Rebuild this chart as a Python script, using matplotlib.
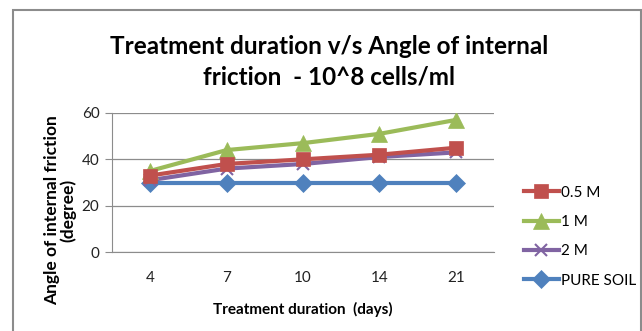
import matplotlib.pyplot as plt
from matplotlib.patches import Rectangle

days = ["4", "7", "10", "14", "21"]
half_m = [33, 38, 40, 42, 45]
one_m = [35, 44, 47, 51, 57]
two_m = [31, 36, 38, 41, 43]
pure_soil = [30, 30, 30, 30, 30]
y_ticks = [0, 20, 40, 60]

plt.rcParams['font.family'] = ['Lato', 'DejaVu Sans']

fig = plt.figure(figsize=(6.42, 3.31), dpi=100)
W, H = 642, 331

# outer chart frame
fig.patches.append(Rectangle((13 / W, -0.05), (641 - 13) / W, 1.05 - 9.5 / H,
                             transform=fig.transFigure, fill=False,
                             edgecolor="#8c8c8c", linewidth=1.5))

ax = fig.add_axes([112 / W, 1 - 252 / H, (494 - 112) / W, (252 - 113) / H])
x = list(range(len(days)))

series = [
    (half_m, "0.5 M", "#c0504d", "s", 10),
    (one_m, "1 M", "#9bbb59", "^", 11),
    (two_m, "2 M", "#8064a2", "x", 9),
    (pure_soil, "PURE SOIL", "#4f81bd", "D", 9),
]
handles = {}
for vals, name, col, mk, ms in reversed(series):
    h, = ax.plot(x, vals, color=col, linewidth=3, marker=mk, markersize=ms,
                 markeredgewidth=1.5 if mk == "x" else 0.5,
                 markeredgecolor=col, markerfacecolor=col, label=name)
    handles[name] = h

ax.set_xlim(-0.5, len(days) - 0.5)
ax.set_ylim(0, 60)
ax.set_yticks(y_ticks)
ax.set_xticks(x)
ax.set_xticklabels(days)
ax.grid(axis="y", color="#8c8c8c", linewidth=0.9)
ax.set_axisbelow(True)
for s in ["top", "right"]:
    ax.spines[s].set_visible(False)
for s in ["left", "bottom"]:
    ax.spines[s].set_color("#8c8c8c")
ax.tick_params(axis="y", length=5, color="#8c8c8c", labelsize=11, pad=4, labelcolor="#222222")
ax.tick_params(axis="x", length=0, labelsize=11, pad=14, labelcolor="#222222")

ax.set_xlabel("Treatment duration  (days)", fontsize=11, fontweight="bold", labelpad=12)

# y-axis title, placed in figure coordinates
fig.text(60 / W, 1 - 210 / H, "Angle of internal friction\n(degree)", rotation=90,
         ha="center", va="center", multialignment="center",
         fontsize=12.5, fontweight="bold", linespacing=1.0)

fig.text(329 / W, 1 - 62 / H, "Treatment duration v/s Angle of internal\nfriction  - 10^8 cells/ml",
         ha="center", va="center", fontsize=17.5, fontweight="bold", linespacing=1.4)

order = ["0.5 M", "1 M", "2 M", "PURE SOIL"]
fig.legend([handles[n] for n in order], order, loc="upper left",
           bbox_to_anchor=(510 / W, 1 - 172 / H), frameon=False, fontsize=11,
           handlelength=2.3, labelspacing=1.0, handletextpad=0.15)

fig.savefig("out.png", dpi=100)
